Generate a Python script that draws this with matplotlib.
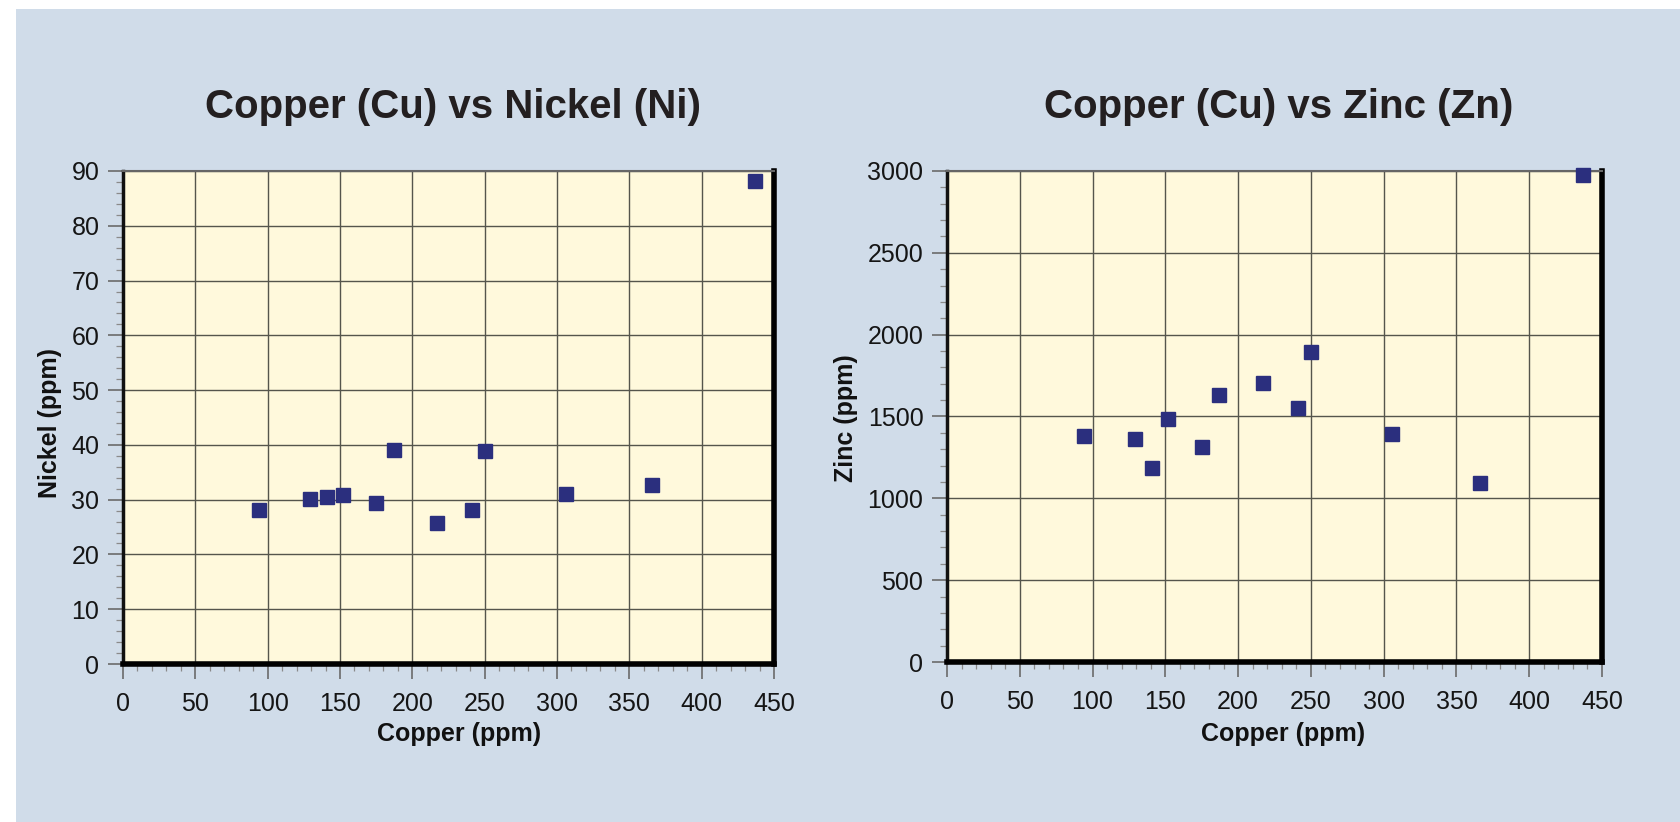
import matplotlib.pyplot as plt
from matplotlib.patches import Rectangle
from matplotlib.ticker import MultipleLocator

# sample values (ppm)
copper = [94, 129, 141, 152, 175, 187, 217, 241, 250, 306, 366, 437]
nickel = [28.1, 30.2, 30.4, 30.8, 29.4, 39.1, 25.8, 28.1, 38.8, 31.0, 32.6, 88.2]
zinc = [1382, 1361, 1184, 1484, 1314, 1634, 1703, 1552, 1893, 1392, 1094, 2973]

titles = ["Copper (Cu) vs Nickel (Ni)", "Copper (Cu) vs Zinc (Zn)"]
ylabels = ["Nickel (ppm)", "Zinc (ppm)"]
xlabel = "Copper (ppm)"

plt.rcParams['font.family'] = ['Liberation Sans', 'DejaVu Sans']

fig = plt.figure(figsize=(16.8, 8.22), dpi=100, facecolor='white')
# light blue panel behind the charts
fig.patches.append(Rectangle((16 / 1680, 0), 1, 1 - 9 / 822, transform=fig.transFigure,
                             facecolor='#D0DCE9', edgecolor='none', zorder=-10))

ax1 = fig.add_axes([123 / 1680, 1 - 664 / 822, 651 / 1680, 493 / 822])
ax2 = fig.add_axes([947 / 1680, 1 - 662 / 822, 655 / 1680, 491 / 822])

setups = [
    (ax1, nickel, 90, 10, 2),
    (ax2, zinc, 3000, 500, 100),
]
for ax, yvals, ymax, ymaj, ymin in setups:
    ax.set_zorder(2)
    ax.set_facecolor('#FFF9DC')
    ax.set_xlim(0, 450)
    ax.set_ylim(0, ymax)
    ax.xaxis.set_major_locator(MultipleLocator(50))
    ax.xaxis.set_minor_locator(MultipleLocator(10))
    ax.yaxis.set_major_locator(MultipleLocator(ymaj))
    ax.yaxis.set_minor_locator(MultipleLocator(ymin))
    ax.grid(True, which='major', color='#55554c', linewidth=1.0)
    ax.set_axisbelow(True)
    ax.tick_params(which='major', direction='out', length=11, width=1.2, color='#6a6a6a',
                   labelsize=18, labelcolor='#151515')
    ax.tick_params(axis='y', which='major', pad=6)
    ax.tick_params(axis='x', which='major', pad=9)
    ax.tick_params(which='minor', direction='out', length=5, width=0.9, color='#8a8a8a')
    ax.spines['left'].set_color('#111111')
    ax.spines['left'].set_linewidth(2.5)
    ax.spines['top'].set_color('#666666')
    ax.spines['top'].set_linewidth(1.5)
    ax.spines['right'].set_color('black')
    ax.spines['right'].set_linewidth(4)
    ax.spines['bottom'].set_color('black')
    ax.spines['bottom'].set_linewidth(4)
    ax.plot(copper, yvals, linestyle='none', marker='s', markersize=10,
            markerfacecolor='#2B2F7E', markeredgecolor='#2B2F7E', clip_on=False, zorder=5)

# titles and axis labels placed like the original
title_font = dict(fontsize=29, fontweight='bold', color='#231F20')
fig.text(453 / 1680, 1 - 107 / 822, titles[0], ha='center', va='center', **title_font)
fig.text(1279 / 1680, 1 - 107 / 822, titles[1], ha='center', va='center', **title_font)

label_font = dict(fontsize=18, fontweight='bold', color='#111111')
fig.text(459 / 1680, 1 - 734 / 822, xlabel, ha='center', va='center', **label_font)
fig.text(1283 / 1680, 1 - 734 / 822, xlabel, ha='center', va='center', **label_font)
fig.text(50 / 1680, 1 - 423 / 822, ylabels[0], ha='center', va='center', rotation=90,
         **label_font)
fig.text(846 / 1680, 1 - 418 / 822, ylabels[1], ha='center', va='center', rotation=90,
         **label_font)

fig.savefig('out.png', dpi=100, facecolor='white')
